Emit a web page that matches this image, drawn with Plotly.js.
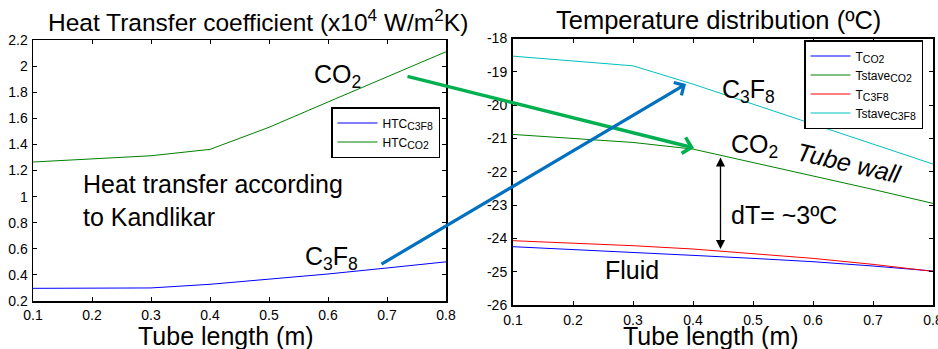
<!DOCTYPE html>
<html><head><meta charset="utf-8">
<script src="https://cdn.plot.ly/plotly-3.0.1.min.js"></script>
<style>html,body{margin:0;padding:0;background:#fff}#chart{width:938px;height:349px}</style>
</head><body><div id="chart"></div>
<script>
const tubeLength = [0.1,0.2,0.3,0.4,0.5,0.6,0.7,0.8];
const htcC3F8 = [0.297,0.297,0.300,0.328,0.366,0.407,0.453,0.500];
const htcCO2  = [1.265,1.290,1.313,1.362,1.531,1.725,1.917,2.110];
const tCO2       = [-24.25,-24.33,-24.42,-24.51,-24.60,-24.70,-24.83,-24.98];
const tstaveCO2  = [-20.88,-21.00,-21.12,-21.32,-21.72,-22.12,-22.53,-22.95];
const tC3F8      = [-24.07,-24.14,-24.22,-24.32,-24.45,-24.60,-24.78,-24.99];
const tstaveC3F8 = [-18.53,-18.67,-18.82,-19.37,-19.97,-20.57,-21.17,-21.77];
const xTicks = [0.1,0.2,0.3,0.4,0.5,0.6,0.7,0.8];
const xTickText = ['0.1','0.2','0.3','0.4','0.5','0.6','0.7','0.8'];
const yTicksL = [0.2,0.4,0.6,0.8,1,1.2,1.4,1.6,1.8,2,2.2];
const yTickTextL = ['0.2','0.4','0.6','0.8','1','1.2','1.4','1.6','1.8','2','2.2'];
const yTicksR = [-26,-25,-24,-23,-22,-21,-20,-19,-18];
const yTickTextR = ['-26','-25','-24','-23','-22','-21','-20','-19','-18'];

const W = 938, H = 349;
const px = v => v / W, py = v => 1 - v / H;
const F = 'Liberation Sans, Arial, sans-serif';
const sub = s => '<sub><span style="font-size:10.5px">' + s + '</span></sub>';

const traces = [
  {x: tubeLength, y: htcC3F8, name: 'HTC' + sub('C3F8'), mode: 'lines', line: {color: '#0000ff', width: 1}, xaxis: 'x', yaxis: 'y', legend: 'legend'},
  {x: tubeLength, y: htcCO2, name: 'HTC' + sub('CO2'), mode: 'lines', line: {color: '#008000', width: 1}, xaxis: 'x', yaxis: 'y', legend: 'legend'},
  {x: tubeLength, y: tCO2, name: 'T' + sub('CO2'), mode: 'lines', line: {color: '#0000ff', width: 1}, xaxis: 'x2', yaxis: 'y2', legend: 'legend2'},
  {x: tubeLength, y: tstaveCO2, name: 'Tstave' + sub('CO2'), mode: 'lines', line: {color: '#008000', width: 1}, xaxis: 'x2', yaxis: 'y2', legend: 'legend2'},
  {x: tubeLength, y: tC3F8, name: 'T' + sub('C3F8'), mode: 'lines', line: {color: '#ff0000', width: 1}, xaxis: 'x2', yaxis: 'y2', legend: 'legend2'},
  {x: tubeLength, y: tstaveC3F8, name: 'Tstave' + sub('C3F8'), mode: 'lines', line: {color: '#00bfbf', width: 1}, xaxis: 'x2', yaxis: 'y2', legend: 'legend2'}
];

const axBase = {showgrid: false, zeroline: false, showline: true, linecolor: '#000', linewidth: 1.5, mirror: 'ticks',
  ticks: 'inside', ticklen: 4, tickcolor: '#000', tickwidth: 1, ticklabeloverflow: 'allow', ticklabelstandoff: 1,
  tickfont: {family: 'Liberation Sans', size: 14, color: '#000'}, fixedrange: true};

const big = s => ({family: F, size: s, color: '#000'});
const ann = (x, y, text, opts) => Object.assign({xref: 'paper', yref: 'paper', x: px(x), y: py(y), text: text,
  showarrow: false, xanchor: 'left', yanchor: 'middle', font: big(25)}, opts || {});

const annotations = [
  ann(258, 20, 'Heat Transfer coefficient (x10<sup>4</sup> W/m<sup>2</sup>K)', {xanchor: 'center', font: big(24.5)}),
  ann(718, 20, 'Temperature distribution (ºC)', {xanchor: 'center', font: big(25.5)}),
  ann(226, 336, 'Tube length (m)', {xanchor: 'center', font: big(25)}),
  ann(711, 336, 'Tube length (m)', {xanchor: 'center', font: big(25)}),
  ann(312, 76, 'CO<sub>2</sub>'),
  ann(81, 200, 'Heat transfer according<br>to Kandlikar', {align: 'left'}),
  ann(303, 258, 'C<sub>3</sub>F<sub>8</sub>'),
  ann(720, 91, 'C<sub>3</sub>F<sub>8</sub>'),
  ann(729, 146, 'CO<sub>2</sub>'),
  ann(849, 163, '<i>Tube wall</i>', {xanchor: 'center', textangle: 13}),
  ann(729, 215, 'dT= ~3ºC'),
  ann(603, 270, 'Fluid'),
  // arrows
  {xref: 'paper', yref: 'paper', x: px(694), y: py(148), ax: 406 - 694, ay: 76 - 148, axref: 'pixel', ayref: 'pixel',
   showarrow: true, arrowhead: 4, arrowsize: 0.9, arrowwidth: 3.5, arrowcolor: '#00b050', text: ''},
  {xref: 'paper', yref: 'paper', x: px(686), y: py(84), ax: 380 - 686, ay: 265 - 84, axref: 'pixel', ayref: 'pixel',
   showarrow: true, arrowhead: 4, arrowsize: 0.9, arrowwidth: 3.2, arrowcolor: '#0070c0', text: ''},
  {xref: 'paper', yref: 'paper', x: px(720.5), y: py(249), ax: 0, ay: 156 - 249, axref: 'pixel', ayref: 'pixel',
   showarrow: true, arrowhead: 2, startarrowhead: 2, arrowside: 'end+start', arrowsize: 1.4, startarrowsize: 1.4, arrowwidth: 1.3, arrowcolor: '#000', text: ''}
];

const layout = {
  width: W, height: H, margin: {l: 0, r: 0, t: 0, b: 0}, paper_bgcolor: '#fff', plot_bgcolor: '#fff',
  font: {family: F, color: '#000'},
  xaxis: Object.assign({}, axBase, {domain: [px(33), px(446)], range: [0.1, 0.8], tickvals: xTicks, ticktext: xTickText, anchor: 'y'}),
  yaxis: Object.assign({}, axBase, {domain: [py(301), py(40)], range: [0.2, 2.2], tickvals: yTicksL, ticktext: yTickTextL, anchor: 'x'}),
  xaxis2: Object.assign({}, axBase, {domain: [px(513), px(933)], range: [0.1, 0.8], tickvals: xTicks, ticktext: xTickText, anchor: 'y2', linewidth: 2}),
  yaxis2: Object.assign({}, axBase, {domain: [py(305), py(38.5)], range: [-26, -18], tickvals: yTicksR, ticktext: yTickTextR, anchor: 'x2', linewidth: 2}),
  showlegend: true,
  legend: {x: px(331), y: py(107), xanchor: 'left', yanchor: 'top', bgcolor: '#fff', bordercolor: '#000', borderwidth: 1.5,
    font: {family: F, size: 12, color: '#000'}, tracegroupgap: 0, itemwidth: 40},
  legend2: {x: px(804), y: py(40), xanchor: 'left', yanchor: 'top', bgcolor: '#fff', bordercolor: '#000', borderwidth: 1.5,
    font: {family: F, size: 12, color: '#000'}, tracegroupgap: 0, itemwidth: 40},
  annotations: annotations
};

Plotly.newPlot('chart', traces, layout, {staticPlot: true, displayModeBar: false});
</script></body></html>
